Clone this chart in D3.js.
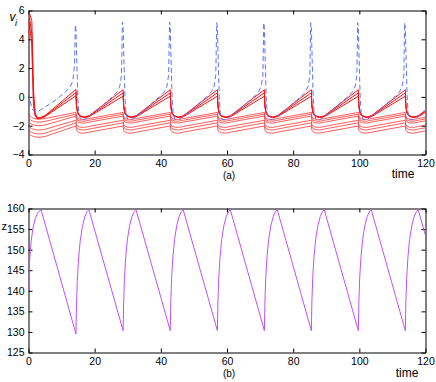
<!DOCTYPE html>
<html>
<head>
<meta charset="utf-8">
<script src="https://cdn.jsdelivr.net/npm/d3@7"></script>
<style>
  body { margin: 0; background: #fff; }
  svg { display: block; }
</style>
</head>
<body>
<div id="chart"></div>
<script>

// ---------- data ----------

// time grid shared by the red traces (panel a)
const redTimes = [0, 0.3, 1, 1.5, 2, 2.6, 3.5, 5,
  14.35, 14.5, 14.85, 15.55, 16.85, 18.35,
  28.6, 28.75, 29.1, 29.8, 31.1, 32.6,
  42.85, 43, 43.35, 44.05, 45.35, 46.85,
  57.1, 57.25, 57.6, 58.3, 59.6, 61.1,
  71.3, 71.45, 71.8, 72.5, 73.8, 75.3,
  85.5, 85.65, 86, 86.7, 88, 89.5,
  99.7, 99.85, 100.2, 100.9, 102.2, 103.7,
  113.9, 114.05, 114.4, 115.1, 116.4, 117.9,
  120];

// upper bundle
const red1 = [5.6, 5.8, 5.3, 0.5, -1.1, -1.45, -1.45, -1.3,
  0.52, -0.5, -1.05, -1.3, -1.4, -1.3,
  0.5, -0.5, -1.05, -1.3, -1.4, -1.3,
  0.5, -0.5, -1.05, -1.3, -1.4, -1.3,
  0.5, -0.5, -1.05, -1.3, -1.4, -1.3,
  0.5, -0.5, -1.05, -1.3, -1.4, -1.3,
  0.5, -0.5, -1.05, -1.3, -1.4, -1.3,
  0.5, -0.5, -1.05, -1.3, -1.4, -1.3,
  0.5, -0.5, -1.05, -1.3, -1.4, -1.3,
  -0.93];
const red2 = [5.0, 5.5, 4.4, -0.1, -1.2, -1.47, -1.47, -1.33,
  0.3, -0.6, -1.1, -1.32, -1.42, -1.33,
  0.28, -0.6, -1.1, -1.32, -1.42, -1.33,
  0.28, -0.6, -1.1, -1.32, -1.42, -1.33,
  0.28, -0.6, -1.1, -1.32, -1.42, -1.33,
  0.28, -0.6, -1.1, -1.32, -1.42, -1.33,
  0.28, -0.6, -1.1, -1.32, -1.42, -1.33,
  0.28, -0.6, -1.1, -1.32, -1.42, -1.33,
  0.28, -0.6, -1.1, -1.32, -1.42, -1.33,
  -1.0];
const red3 = [4.4, 5.0, 3.6, -0.6, -1.3, -1.5, -1.5, -1.37,
  0.08, -0.7, -1.15, -1.35, -1.44, -1.37,
  0.05, -0.7, -1.15, -1.35, -1.44, -1.37,
  0.05, -0.7, -1.15, -1.35, -1.44, -1.37,
  0.05, -0.7, -1.15, -1.35, -1.44, -1.37,
  0.05, -0.7, -1.15, -1.35, -1.44, -1.37,
  0.05, -0.7, -1.15, -1.35, -1.44, -1.37,
  0.05, -0.7, -1.15, -1.35, -1.44, -1.37,
  0.05, -0.7, -1.15, -1.35, -1.44, -1.37,
  -1.08];

// lower bundle
const red4 = [-1.2, -1.3, -1.42, -1.48, -1.52, -1.55, -1.55, -1.5,
  -1.08, -1.35, -1.48, -1.55, -1.57, -1.5,
  -1.08, -1.35, -1.48, -1.55, -1.57, -1.5,
  -1.08, -1.35, -1.48, -1.55, -1.57, -1.5,
  -1.08, -1.35, -1.48, -1.55, -1.57, -1.5,
  -1.08, -1.35, -1.48, -1.55, -1.57, -1.5,
  -1.08, -1.35, -1.48, -1.55, -1.57, -1.5,
  -1.08, -1.35, -1.48, -1.55, -1.57, -1.5,
  -1.08, -1.35, -1.48, -1.55, -1.57, -1.5,
  -1.41];
const red5 = [-1.45, -1.55, -1.65, -1.7, -1.73, -1.75, -1.75, -1.7,
  -1.2, -1.47, -1.6, -1.67, -1.69, -1.62,
  -1.2, -1.47, -1.6, -1.67, -1.69, -1.62,
  -1.2, -1.47, -1.6, -1.67, -1.69, -1.62,
  -1.2, -1.47, -1.6, -1.67, -1.69, -1.62,
  -1.2, -1.47, -1.6, -1.67, -1.69, -1.62,
  -1.2, -1.47, -1.6, -1.67, -1.69, -1.62,
  -1.2, -1.47, -1.6, -1.67, -1.69, -1.62,
  -1.2, -1.47, -1.6, -1.67, -1.69, -1.62,
  -1.53];
const red6 = [-1.7, -1.8, -1.9, -1.95, -1.98, -2.0, -2.0, -1.95,
  -1.33, -1.6, -1.73, -1.8, -1.82, -1.75,
  -1.33, -1.6, -1.73, -1.8, -1.82, -1.75,
  -1.33, -1.6, -1.73, -1.8, -1.82, -1.75,
  -1.33, -1.6, -1.73, -1.8, -1.82, -1.75,
  -1.33, -1.6, -1.73, -1.8, -1.82, -1.75,
  -1.33, -1.6, -1.73, -1.8, -1.82, -1.75,
  -1.33, -1.6, -1.73, -1.8, -1.82, -1.75,
  -1.33, -1.6, -1.73, -1.8, -1.82, -1.75,
  -1.66];
const red7 = [-2.0, -2.1, -2.2, -2.25, -2.28, -2.3, -2.3, -2.25,
  -1.62, -1.9, -2.02, -2.1, -2.12, -2.05,
  -1.62, -1.9, -2.02, -2.1, -2.12, -2.05,
  -1.62, -1.9, -2.02, -2.1, -2.12, -2.05,
  -1.62, -1.9, -2.02, -2.1, -2.12, -2.05,
  -1.62, -1.9, -2.02, -2.1, -2.12, -2.05,
  -1.62, -1.9, -2.02, -2.1, -2.12, -2.05,
  -1.62, -1.9, -2.02, -2.1, -2.12, -2.05,
  -1.62, -1.9, -2.02, -2.1, -2.12, -2.05,
  -1.96];
const red8 = [-2.3, -2.38, -2.47, -2.52, -2.55, -2.57, -2.57, -2.52,
  -1.8, -2.07, -2.2, -2.27, -2.3, -2.23,
  -1.8, -2.07, -2.2, -2.27, -2.3, -2.23,
  -1.8, -2.07, -2.2, -2.27, -2.3, -2.23,
  -1.8, -2.07, -2.2, -2.27, -2.3, -2.23,
  -1.8, -2.07, -2.2, -2.27, -2.3, -2.23,
  -1.8, -2.07, -2.2, -2.27, -2.3, -2.23,
  -1.8, -2.07, -2.2, -2.27, -2.3, -2.23,
  -1.8, -2.07, -2.2, -2.27, -2.3, -2.23,
  -2.14];
const red9 = [-2.55, -2.62, -2.7, -2.75, -2.78, -2.8, -2.8, -2.75,
  -2.02, -2.3, -2.42, -2.5, -2.52, -2.45,
  -2.02, -2.3, -2.42, -2.5, -2.52, -2.45,
  -2.02, -2.3, -2.42, -2.5, -2.52, -2.45,
  -2.02, -2.3, -2.42, -2.5, -2.52, -2.45,
  -2.02, -2.3, -2.42, -2.5, -2.52, -2.45,
  -2.02, -2.3, -2.42, -2.5, -2.52, -2.45,
  -2.02, -2.3, -2.42, -2.5, -2.52, -2.45,
  -2.02, -2.3, -2.42, -2.5, -2.52, -2.45,
  -2.36];

const redSeries = [red1, red2, red3, red4, red5, red6, red7, red8, red9];

// blue dashed trace (panel a), [time, v]
const bluePoints = [
  [0, 0.8], [0.4, -0.1], [0.9, -0.7], [1.6, -1.0], [2.6, -1.05], [4, -0.85], [8, -0.25], [11, 0.3], [12.6, 0.7], [13.4, 1.1], [13.9, 2.2],
  [14.15, 5.0], [14.35, 4.7], [14.6, 2.5], [14.9, 0], [15.2, -1.1], [15.7, -1.55], [16.8, -1.6], [18.3, -1.35], [22.3, -0.6], [25.3, 0.0], [26.8, 0.35], [27.6, 0.75], [28.1, 1.5],
  [28.4, 5.2], [28.6, 4.8], [28.85, 2.5], [29.15, 0], [29.45, -1.1], [29.95, -1.55], [31.05, -1.6], [32.55, -1.35], [36.55, -0.6], [39.55, 0.0], [41.05, 0.35], [41.85, 0.75], [42.35, 1.5],
  [42.65, 5.2], [42.85, 4.8], [43.1, 2.5], [43.4, 0], [43.7, -1.1], [44.2, -1.55], [45.3, -1.6], [46.8, -1.35], [50.8, -0.6], [53.8, 0.0], [55.3, 0.35], [56.1, 0.75], [56.6, 1.5],
  [56.9, 5.15], [57.1, 4.8], [57.35, 2.5], [57.65, 0], [57.95, -1.1], [58.45, -1.55], [59.55, -1.6], [61.05, -1.35], [65.05, -0.6], [68.05, 0.0], [69.55, 0.35], [70.35, 0.75], [70.85, 1.5],
  [71.1, 5.15], [71.3, 4.8], [71.55, 2.5], [71.85, 0], [72.15, -1.1], [72.65, -1.55], [73.75, -1.6], [75.25, -1.35], [79.25, -0.6], [82.25, 0.0], [83.75, 0.35], [84.55, 0.75], [85.05, 1.5],
  [85.3, 5.15], [85.5, 4.8], [85.75, 2.5], [86.05, 0], [86.35, -1.1], [86.85, -1.55], [87.95, -1.6], [89.45, -1.35], [93.45, -0.6], [96.45, 0.0], [97.95, 0.35], [98.75, 0.75], [99.25, 1.5],
  [99.5, 5.15], [99.7, 4.8], [99.95, 2.5], [100.25, 0], [100.55, -1.1], [101.05, -1.55], [102.15, -1.6], [103.65, -1.35], [107.65, -0.6], [110.65, 0.0], [112.15, 0.35], [112.95, 0.75], [113.45, 1.5],
  [113.7, 5.15], [113.9, 4.8], [114.15, 2.5], [114.45, 0], [114.75, -1.1], [115.25, -1.55], [116.35, -1.6], [117.85, -1.35], [120, -0.95]
];

// z trace (panel b), [time, z]
const zPoints = [
  [0, 140], [0.15, 144], [0.4, 148], [0.8, 152], [1.3, 155], [2, 157.5], [2.8, 159], [3.8, 159.7],
  [14.35, 129.5], [14.5, 136.5], [14.75, 142.5], [15.15, 148], [15.65, 152.3], [16.3, 155.6], [17.05, 158.1], [17.75, 159.3], [18.25, 159.7],
  [28.6, 130.3], [28.75, 137], [29, 143], [29.4, 148.3], [29.9, 152.5], [30.55, 155.8], [31.3, 158.1], [32, 159.3], [32.5, 159.7],
  [42.85, 130.3], [43, 137], [43.25, 143], [43.65, 148.3], [44.15, 152.5], [44.8, 155.8], [45.55, 158.1], [46.25, 159.3], [46.75, 159.7],
  [57.1, 130.3], [57.25, 137], [57.5, 143], [57.9, 148.3], [58.4, 152.5], [59.05, 155.8], [59.8, 158.1], [60.5, 159.3], [61, 159.7],
  [71.3, 130.3], [71.45, 137], [71.7, 143], [72.1, 148.3], [72.6, 152.5], [73.25, 155.8], [74, 158.1], [74.7, 159.3], [75.2, 159.7],
  [85.5, 130.3], [85.65, 137], [85.9, 143], [86.3, 148.3], [86.8, 152.5], [87.45, 155.8], [88.2, 158.1], [88.9, 159.3], [89.4, 159.7],
  [99.7, 130.3], [99.85, 137], [100.1, 143], [100.5, 148.3], [101, 152.5], [101.65, 155.8], [102.4, 158.1], [103.1, 159.3], [103.6, 159.7],
  [113.9, 130.3], [114.05, 137], [114.3, 143], [114.7, 148.3], [115.2, 152.5], [115.85, 155.8], [116.6, 158.1], [117.3, 159.3], [117.8, 159.7],
  [120, 153.4]
];

// ticks
const timeTicks = [0, 20, 40, 60, 80, 100, 120];
const vTicks = [-4, -2, 0, 2, 4, 6];
const zTicks = [125, 130, 135, 140, 145, 150, 155, 160];


// ---------- drawing ----------

const fontFamily = "'Liberation Sans', Arial, Helvetica, sans-serif";
const width = 436, height = 382;
const plotLeft = 28.5, plotRight = 425.5;

const svg = d3.select("#chart").append("svg")
  .attr("width", width)
  .attr("height", height);

const x = d3.scaleLinear().domain([0, 120]).range([plotLeft, plotRight]);
const yA = d3.scaleLinear().domain([-4, 6]).range([154.5, 10.5]);
const yB = d3.scaleLinear().domain([125, 160]).range([352.5, 208.5]);


function drawFrame(y, top, bottom, yTicks, clipId) {

  const g = svg.append("g");

  svg.append("clipPath").attr("id", clipId)
    .append("rect")
    .attr("x", plotLeft).attr("y", top)
    .attr("width", plotRight - plotLeft).attr("height", bottom - top);

  // bottom + left with labels, ticks pointing in
  g.append("g")
    .attr("transform", "translate(0," + bottom + ")")
    .call(d3.axisBottom(x).tickValues(timeTicks).tickSizeInner(-4).tickSizeOuter(0).tickPadding(5));

  g.append("g")
    .attr("transform", "translate(" + plotLeft + ",0)")
    .call(d3.axisLeft(y).tickValues(yTicks).tickSizeInner(-4).tickSizeOuter(0).tickPadding(4));

  // top + right, ticks only
  g.append("g")
    .attr("transform", "translate(0," + top + ")")
    .call(d3.axisTop(x).tickValues(timeTicks).tickSizeInner(-4).tickSizeOuter(0).tickFormat(""));

  g.append("g")
    .attr("transform", "translate(" + plotRight + ",0)")
    .call(d3.axisRight(y).tickValues(yTicks).tickSizeInner(-4).tickSizeOuter(0).tickFormat(""));

  g.selectAll("text")
    .attr("font-family", fontFamily)
    .attr("font-size", 10.5)
    .attr("fill", "#000");

  g.selectAll("path.domain, line").attr("stroke", "#000").attr("stroke-width", 1);

  return g;
}


drawFrame(yA, 10.5, 154.5, vTicks, "clipA");
drawFrame(yB, 208.5, 352.5, zTicks, "clipB");


// panel (a): red traces
const redLine = d3.line()
  .x(function(d) { return x(d[0]); })
  .y(function(d) { return yA(d[1]); });

const plotA = svg.append("g").attr("clip-path", "url(#clipA)");

plotA.selectAll("path.red")
  .data(redSeries)
  .enter()
  .append("path")
  .attr("class", "red")
  .attr("d", function(vals) { return redLine(redTimes.map(function(t, i) { return [t, vals[i]]; })); })
  .attr("fill", "none")
  .attr("stroke", function(d, i) { return i < 3 ? "#ff1010" : "#ff3535"; })
  .attr("stroke-width", function(d, i) { return i < 3 ? 1 : 0.8; })
  .attr("stroke-linejoin", "round");

plotA.append("path")
  .datum(bluePoints)
  .attr("d", redLine)
  .attr("fill", "none")
  .attr("stroke", "#5b73ff")
  .attr("stroke-width", 1)
  .attr("stroke-dasharray", "5,3");


// panel (b): z trace
const zLine = d3.line()
  .x(function(d) { return x(d[0]); })
  .y(function(d) { return yB(d[1]); });

svg.append("g").attr("clip-path", "url(#clipB)")
  .append("path")
  .datum(zPoints)
  .attr("d", zLine)
  .attr("fill", "none")
  .attr("stroke", "#c050ff")
  .attr("stroke-width", 1);


// labels
const vLabel = svg.append("text")
  .attr("x", 9.5)
  .attr("y", 20.5)
  .attr("font-family", fontFamily)
  .attr("font-size", 12)
  .attr("font-style", "italic");
vLabel.append("tspan").text("v");
vLabel.append("tspan")
  .attr("x", 15)
  .attr("y", 26)
  .attr("font-size", 9)
  .text("i");

svg.append("text")
  .attr("x", 1.5).attr("y", 230)
  .attr("font-family", fontFamily)
  .attr("font-size", 11)
  .text("z");

[["(a)", 229, 178.5, 10], ["time", 403, 177.5, 12], ["(b)", 229, 376.5, 10], ["time", 407, 376.5, 12]].forEach(function(l) {
  svg.append("text")
    .attr("x", l[1]).attr("y", l[2])
    .attr("text-anchor", "middle")
    .attr("font-family", fontFamily)
    .attr("font-size", l[3])
    .text(l[0]);
});

</script>
</body>
</html>
